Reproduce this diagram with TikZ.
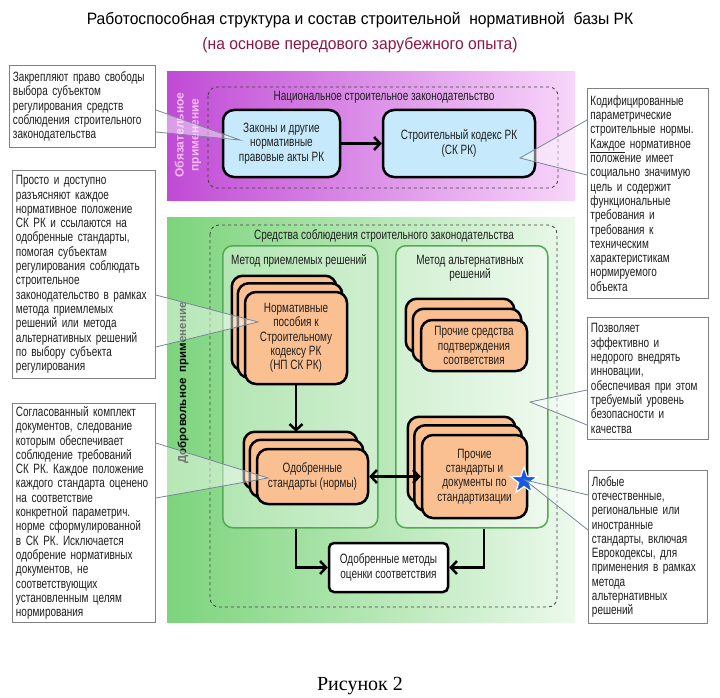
\documentclass[tikz,border=0pt]{standalone}
\usepackage{fontspec}
\setmainfont{Liberation Sans}
\newfontfamily\nar{Liberation Sans}[FakeStretch=0.74]
\newfontfamily\ttl{Liberation Sans}[FakeStretch=0.95]
\newfontfamily\figfont{Liberation Serif}
\usetikzlibrary{arrows.meta,shapes.geometric,calc}
\definecolor{purpL}{RGB}{192,74,214}
\definecolor{purpR}{RGB}{248,214,250}
\definecolor{greenL}{RGB}{124,212,124}
\definecolor{greenR}{RGB}{236,249,236}
\definecolor{methBorder}{RGB}{84,170,84}
\definecolor{blueFill}{RGB}{198,234,252}
\definecolor{orFill}{RGB}{251,192,145}
\definecolor{ttlRed}{RGB}{140,22,72}
\definecolor{calloutGray}{RGB}{128,128,128}
\definecolor{ptrGray}{RGB}{120,135,150}
\definecolor{starBlue}{RGB}{20,90,230}
\definecolor{txt}{RGB}{30,30,30}
\pgfdeclarelayer{bg}
\pgfdeclarelayer{mid}
\pgfsetlayers{bg,mid,main}
\newcommand\callptr[3]{\fill[ptrfill] #1 -- #3 -- #2 -- cycle; \draw[ptrline] #1 -- #3 -- #2;}
\begin{document}
\begin{tikzpicture}[x=1pt,y=-1pt,
  bodyfont/.style={font=\nar\fontsize{13.5}{14.3}\selectfont, text=txt},
  callout/.style={bodyfont, draw=calloutGray, fill=white, line width=0.9pt, inner xsep=3.5pt, inner ysep=3pt, align=left, anchor=north west},
  ptrfill/.style={fill=white, fill opacity=0.45},
  ptrline/.style={draw=ptrGray, line width=0.8pt},
  bluebox/.style={bodyfont, draw=black, line width=2.5pt, fill=blueFill, rounded corners=11pt, align=center, inner sep=2pt},
  orbox/.style={bodyfont, draw=black, line width=2.5pt, fill=orFill, rounded corners=11pt, align=center, inner sep=2pt},
  orback/.style={draw=black, line width=2.5pt, fill=orFill, rounded corners=11pt},
  whbox/.style={bodyfont, draw=black, line width=2.5pt, fill=white, rounded corners=5pt, align=center, inner sep=2pt},
  method/.style={draw=methBorder, line width=1.5pt, fill=white, fill opacity=0.35, rounded corners=10pt, anchor=north west},
  dashbox/.style={draw=black!75, dashed, line width=0.8pt, rounded corners=9pt},
  lbl/.style={bodyfont, align=center},
  arr/.style={line width=2.5pt, -{Straight Barb[length=6pt,width=13pt]}},
  darr/.style={line width=2.5pt, {Straight Barb[length=6pt,width=13pt]}-{Straight Barb[length=6pt,width=13pt]}},
]
\useasboundingbox (0,0) rectangle (720,698);

% titles
\node[font=\ttl\fontsize{16.5}{20}\selectfont, text=black] (title) at (360,20) {Работоспособная структура и состав строительной\ \ нормативной\ \ базы РК};
\node[font=\ttl\fontsize{16.5}{20}\selectfont, text=ttlRed] (subtitle) at (360,45) {(на основе передового зарубежного опыта)};

% bands and frames
\begin{pgfonlayer}{bg}
\fill[white] (0,0) rectangle (720,698);
\shade[left color=purpL, right color=purpR] (167,72) rectangle (575,200);
\shade[left color=greenL, right color=greenR] (167,217) rectangle (575,622);
\draw[dashbox] (208,87) rectangle (558,188);
\draw[dashbox] (210,225) rectangle (557,607);
\node[method, minimum width=155, minimum height=282] (mpr) at (222,245) {};
\node[method, minimum width=152, minimum height=282] (mal) at (395,245) {};
\end{pgfonlayer}

\node[font=\bfseries\fontsize{12}{15}\selectfont, text={rgb,255:red,244;green,190;blue,246}, rotate=90, align=center] (oblig) at (188,135) {Обязательное\\применение};
\node[font=\bfseries\fontsize{11.5}{14}\selectfont, text=black, rotate=90] (dobr) at (183,383) {Добровольное\ \ применение};

\node[lbl] (natl) at (384,97) {Национальное строительное законодательство};
\node[lbl] (sredl) at (384,236) {Средства соблюдения строительного законодательства};
\node[lbl] (mprl) at (299,261) {Метод приемлемых решений};
\node[lbl] (mall) at (470,268) {Метод альтернативных\\решений};

% upper boxes
\node[bluebox, minimum width=117pt, minimum height=67pt] (zak) at (281.5,143.5) {Законы и другие\\нормативные\\правовые акты РК};
\node[bluebox, minimum width=152pt, minimum height=67pt] (sk) at (459,143.5) {Строительный кодекс РК\\(СК РК)};
\draw[arr] (zak) -- (sk);

% orange stacks
\node[orbox, minimum width=102pt, minimum height=92pt] (np) at (296,338) {Нормативные\\пособия к\\Строительному\\кодексу РК\\(НП СК РК)};
\node[orbox, minimum width=106pt, minimum height=51pt] (pr) at (474,345.5) {Прочие средства\\подтверждения\\соответствия};
\node[orbox, minimum width=111pt, minimum height=55pt] (os) at (312.5,476.5) {Одобренные\\стандарты (нормы)};
\node[orbox, minimum width=105pt, minimum height=83pt] (ps) at (474.5,476.5) {Прочие\\стандарты и\\документы по\\стандартизации};
\begin{pgfonlayer}{mid}
\foreach \n/\dx/\dy in {np/6/7.5, pr/7/10, os/6/8, ps/6.5/8.5} {
  \draw[orback] ($(\n.north west)+(-2*\dx,-2*\dy)$) rectangle ($(\n.south east)+(-2*\dx,-2*\dy)$);
  \draw[orback] ($(\n.north west)+(-\dx,-\dy)$) rectangle ($(\n.south east)+(-\dx,-\dy)$);
}
\end{pgfonlayer}
\node[whbox, minimum width=119pt, minimum height=49pt] (om) at (388.5,567.5) {Одобренные методы\\оценки соответствия};

\coordinate (ostop) at ($(os.north)+(0,-16)$);
\draw[arr] (np.south) -- (np.south |- ostop);
\draw[darr] (os.east) -- (ps.west);
\draw[arr] (mpr.south -| np.south) |- (om.west);
\draw[arr] ($(mal.south)+(12,0)$) |- (om.east);

\node[star, star points=5, star point ratio=2.5, fill=starBlue, draw=white, line width=1.2pt, minimum size=28pt, inner sep=0pt] (star) at (524,481) {};

% tips
\coordinate (t1) at (240,140);
\coordinate (t2) at (258,322);
\coordinate (t3) at (268,478);
\coordinate (t4) at (520,158);
\coordinate (t5) at (530,402);
\coordinate (t6) at (525,480);

% callouts
\node[callout, text width=139pt, minimum height=82pt] (c1) at (9,65) {Закрепляют право свободы\\выбора субъектом\\регулирования средств\\соблюдения строительного\\законодательства};
\node[callout, text width=136pt, minimum height=208pt] (c2) at (12,170) {Просто и доступно\\разъясняют каждое\\нормативное положение\\СК РК и ссылаются на\\одобренные стандарты,\\помогая субъектам\\регулирования соблюдать\\строительное\\законодательство в рамках\\метода приемлемых\\решений или метода\\альтернативных решений\\по выбору субъекта\\регулирования};
\node[callout, text width=136pt, minimum height=217pt] (c3) at (12,403) {Согласованный комплект\\документов, следование\\которым обеспечивает\\соблюдение требований\\СК РК. Каждое положение\\каждого стандарта оценено\\на соответствие\\конкретной параметрич.\\норме сформулированной\\в СК РК. Исключается\\одобрение нормативных\\документов, не\\соответствующих\\установленным целям\\нормирования};
\node[callout, inner xsep=3pt, text width=115pt, minimum height=210pt] (c4) at (587,88) {Кодифицированные\\параметрические\\строительные нормы.\\\mbox{\underline{Каждое} нормативное}\\положение имеет\\социально значимую\\цель и содержит\\функциональные\\требования и\\требования к\\техническим\\характеристикам\\нормируемого\\объекта};
\node[callout, text width=114pt, minimum height=122pt] (c5) at (587,317) {Позволяет\\эффективно и\\недорого внедрять\\инновации,\\обеспечивая при этом\\требуемый уровень\\безопасности и\\качества};
\node[callout, text width=112pt, minimum height=153pt] (c6) at (588,470) {Любые\\отечественные,\\региональные или\\иностранные\\стандарты, включая\\Еврокодексы, для\\применения в рамках\\метода\\альтернативных\\решений};

% pointers
\callptr{($(c1.north east)+(0,45)$)}{($(c1.north east)+(0,67)$)}{(t1)}
\callptr{($(c2.north east)+(0,125)$)}{($(c2.north east)+(0,177)$)}{(t2)}
\callptr{($(c3.north east)+(0,40)$)}{($(c3.north east)+(0,95)$)}{(t3)}
\callptr{($(c4.north west)+(0,32)$)}{($(c4.north west)+(0,87)$)}{(t4)}
\callptr{($(c5.north west)+(0,73)$)}{($(c5.north west)+(0,108)$)}{(t5)}
\callptr{($(c6.north west)+(0,25)$)}{($(c6.north west)+(0,60)$)}{(t6)}

\node[font=\figfont\fontsize{20}{24}\selectfont] (fig) at (360,686) {Рисунок 2};
\end{tikzpicture}
\end{document}
